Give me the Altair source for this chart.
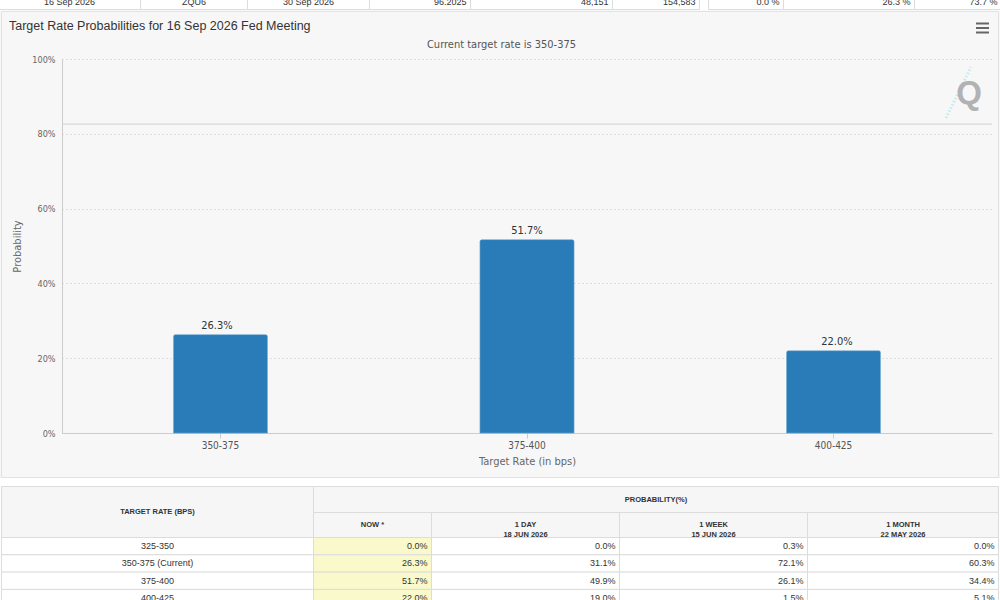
import altair as alt
import pandas as pd

# ---------------- data ----------------
RATES = ["350-375", "375-400", "400-425"]
PROBS = [26.3, 51.7, 22.0]
Y_TICKS = [0, 20, 40, 60, 80, 100]
REF_LINE = [82.6]

CHART_TITLE = "Target Rate Probabilities for 16 Sep 2026 Fed Meeting"
CHART_SUBTITLE = "Current target rate is 350-375"
X_TITLE = "Target Rate (in bps)"
Y_TITLE = "Probability"

TOP_ROW_LEFT = ["16 Sep 2026", "ZQU6", "30 Sep 2026", "96.2025", "48,151", "154,583"]
TOP_ROW_RIGHT = ["0.0 %", "26.3 %", "73.7 %"]

TABLE_HEAD_MAIN = ["TARGET RATE (BPS)", "PROBABILITY(%)"]
TABLE_HEAD_SUB = ["NOW *", "1 DAY\n18 JUN 2026", "1 WEEK\n15 JUN 2026", "1 MONTH\n22 MAY 2026"]
TABLE_RATES = ["325-350", "350-375 (Current)", "375-400", "400-425"]
TABLE_NOW = [0.0, 26.3, 51.7, 22.0]
TABLE_1DAY = [0.0, 31.1, 49.9, 19.0]
TABLE_1WEEK = [0.3, 72.1, 26.1, 1.5]
TABLE_1MONTH = [0.0, 60.3, 34.4, 5.1]

# ---------------- layout ----------------
W, H = 1000, 600
PL, PT, PW, PH = 62, 59, 930, 374
PR, PB = W - PL - PW, H - PT - PH

PAGE_X = alt.Scale(domain=[0, W], range=[-PL, W - PL], nice=False, zero=False)
PAGE_Y = alt.Scale(domain=[0, H], range=[-PT, H - PT], nice=False, zero=False)

AX_FONT = "DejaVu Sans Condensed, DejaVu Sans"
TB_FONT = "Liberation Sans, Arial"
TITLE_FONT = "Liberation Sans, Arial"

BAR_COLOR = "#2a7cb8"
BORDER = "#dcdcdc"
HEAD_BG = "#f6f6f6"
NOW_BG = "#f9f9cb"

STRIP_L_EDGES = [-1.5, 140.5, 247.5, 369.5, 470.5, 612.5, 699.5]
STRIP_R_EDGES = [708.5, 783.5, 914.5, 1001.5]
STRIP_Y = (-20, 9.5)
STRIP_TEXT_Y = 1.5

COL_EDGES = [1.5, 313.5, 431.5, 619.5, 807.5, 998.5]
HEAD_Y = [486.5, 512.5, 537.5]
ROW_H = 17.3


def page_rects(df, **mark):
    return alt.Chart(df).mark_rect(**mark).encode(
        x=alt.X("x1:Q", scale=PAGE_X, axis=None),
        x2="x2:Q",
        y=alt.Y("y1:Q", scale=PAGE_Y, axis=None),
        y2="y2:Q",
        fill=alt.Fill("fill:N", scale=None),
    )


def page_text(df, **mark):
    return alt.Chart(df).mark_text(**mark).encode(
        x=alt.X("x:Q", scale=PAGE_X, axis=None),
        y=alt.Y("y:Q", scale=PAGE_Y, axis=None),
        text="t:N",
    )


layers = []

# white areas outside the chart panel
white = pd.DataFrame([
    {"x1": 0, "x2": W, "y1": 0, "y2": 10.5, "fill": "#ffffff"},
    {"x1": 0, "x2": W, "y1": 478, "y2": H, "fill": "#ffffff"},
])
layers.append(page_rects(white))

# panel border
panel = pd.DataFrame([{"x1": 1.5, "x2": 998.5, "y1": 11.5, "y2": 477.5, "fill": "transparent"}])
layers.append(page_rects(panel, stroke="#e2e2e2", strokeWidth=1))

# ---- top strip (cut-off table row) ----
strip_cells = []
for edges in (STRIP_L_EDGES, STRIP_R_EDGES):
    for a, b in zip(edges[:-1], edges[1:]):
        strip_cells.append({"x1": a, "x2": b, "y1": STRIP_Y[0], "y2": STRIP_Y[1], "fill": "#ffffff"})
layers.append(page_rects(pd.DataFrame(strip_cells), stroke=BORDER, strokeWidth=1))

strip_center, strip_right = [], []
for i, t in enumerate(TOP_ROW_LEFT):
    a, b = STRIP_L_EDGES[i], STRIP_L_EDGES[i + 1]
    if i < 3:
        strip_center.append({"x": (a + b) / 2, "y": STRIP_TEXT_Y, "t": t})
    else:
        strip_right.append({"x": b - 4, "y": STRIP_TEXT_Y, "t": t})
for i, t in enumerate(TOP_ROW_RIGHT):
    strip_right.append({"x": STRIP_R_EDGES[i + 1] - 4, "y": STRIP_TEXT_Y, "t": t})
layers.append(page_text(pd.DataFrame(strip_center), align="center", baseline="middle",
                        font=TB_FONT, fontSize=9, color="#333"))
layers.append(page_text(pd.DataFrame(strip_right), align="right", baseline="middle",
                        font=TB_FONT, fontSize=9, color="#333"))

# ---- chart title, menu icon, watermark ----
layers.append(page_text(pd.DataFrame([{"x": 9, "y": 26, "t": CHART_TITLE}]),
                        align="left", baseline="middle", font=TITLE_FONT, fontSize=12.5, color="#333"))

menu = pd.DataFrame([{"x1": 976, "x2": 989, "y": v} for v in (23.5, 28, 32.5)])
layers.append(alt.Chart(menu).mark_rule(color="#666", strokeWidth=2).encode(
    x=alt.X("x1:Q", scale=PAGE_X, axis=None), x2="x2:Q",
    y=alt.Y("y:Q", scale=PAGE_Y, axis=None)))

hatch = pd.DataFrame([{"x1": 946, "x2": 971, "y1": 118, "y2": 67}])
layers.append(alt.Chart(hatch).mark_rule(color="#c6eaee", strokeWidth=3, strokeDash=[1.5, 2]).encode(
    x=alt.X("x1:Q", scale=PAGE_X, axis=None), x2="x2:Q",
    y=alt.Y("y1:Q", scale=PAGE_Y, axis=None), y2="y2:Q"))
layers.append(page_text(pd.DataFrame([{"x": 969, "y": 94, "t": "Q"}]),
                        align="center", baseline="middle", font="Liberation Sans",
                        fontSize=33, fontWeight="bold", color="#b2b2b2"))

# ---- main bar chart ----
bar_df = pd.DataFrame({"rate": RATES, "p": PROBS})
X_SC = alt.Scale(domain=RATES, paddingInner=0, paddingOuter=0.017)
Y_SC = alt.Scale(domain=[0, 100], nice=False, zero=True)

bars = alt.Chart(bar_df).mark_bar(
    size=94, color=BAR_COLOR, cornerRadiusTopLeft=2, cornerRadiusTopRight=2,
    stroke="#4f95c8", strokeWidth=0.6
).encode(
    x=alt.X("rate:N", scale=X_SC, sort=RATES, axis=alt.Axis(
        orient="bottom", title=X_TITLE, labelAngle=0, labelFont=AX_FONT, labelFontSize=10,
        labelColor="#555", labelPadding=2, tickSize=5, tickColor="#ccc", domainColor="#ccc",
        titleFont=AX_FONT, titleFontSize=11, titleFontWeight="normal", titleColor="#666",
        titlePadding=5, grid=False)),
    y=alt.Y("p:Q", scale=Y_SC, axis=alt.Axis(
        orient="left", values=Y_TICKS, labelExpr="datum.value + '%'", labelFont=AX_FONT,
        labelFontSize=9, labelColor="#666", labelPadding=7, ticks=False, domainColor="#ccc",
        grid=True, gridDash=[1, 3], gridColor="#c4c4c4", title=Y_TITLE, titleFont=AX_FONT,
        titleFontSize=11, titleFontWeight="normal", titleColor="#666", titlePadding=9)),
)
layers.append(bars)

ref = alt.Chart(pd.DataFrame({"v": REF_LINE})).mark_rule(color="#cfcfcf", strokeWidth=1).encode(
    y=alt.Y("v:Q", scale=Y_SC, axis=None))
layers.append(ref)

labels = alt.Chart(bar_df).transform_calculate(
    lab="format(datum.p, '.1f') + '%'"
).mark_text(baseline="alphabetic", dy=-6, font=AX_FONT, fontSize=11, color="#333").encode(
    x=alt.X("rate:N", scale=X_SC, sort=RATES, axis=alt.Axis(
        orient="top", labels=False, ticks=False, domain=False, grid=False,
        title=CHART_SUBTITLE, titleFont=AX_FONT, titleFontSize=11, titleFontWeight="normal",
        titleColor="#555", titlePadding=10, titleX=W / 2 + 1 - PL, titleAlign="center")),
    y=alt.Y("p:Q", scale=Y_SC, axis=None),
    text="lab:N",
)
layers.append(labels)

# ---- probability table ----
cells = [
    {"x1": COL_EDGES[0], "x2": COL_EDGES[1], "y1": HEAD_Y[0], "y2": HEAD_Y[2], "fill": HEAD_BG},
    {"x1": COL_EDGES[1], "x2": COL_EDGES[5], "y1": HEAD_Y[0], "y2": HEAD_Y[1], "fill": HEAD_BG},
]
for j in range(1, 5):
    cells.append({"x1": COL_EDGES[j], "x2": COL_EDGES[j + 1], "y1": HEAD_Y[1], "y2": HEAD_Y[2], "fill": HEAD_BG})
n_rows = len(TABLE_RATES)
for i in range(n_rows):
    for j in range(5):
        cells.append({"x1": COL_EDGES[j], "x2": COL_EDGES[j + 1],
                      "y1": HEAD_Y[2] + i * ROW_H, "y2": HEAD_Y[2] + (i + 1) * ROW_H,
                      "fill": NOW_BG if j == 1 else "#ffffff"})
layers.append(page_rects(pd.DataFrame(cells), stroke=BORDER, strokeWidth=1))

head_text = [
    {"x": (COL_EDGES[0] + COL_EDGES[1]) / 2, "y": (HEAD_Y[0] + HEAD_Y[2]) / 2, "t": TABLE_HEAD_MAIN[0]},
    {"x": (COL_EDGES[1] + COL_EDGES[5]) / 2, "y": (HEAD_Y[0] + HEAD_Y[1]) / 2, "t": TABLE_HEAD_MAIN[1]},
]
for j, t in enumerate(TABLE_HEAD_SUB):
    head_text.append({"x": (COL_EDGES[j + 1] + COL_EDGES[j + 2]) / 2,
                      "y": (HEAD_Y[1] + HEAD_Y[2]) / 2, "t": t})
layers.append(page_text(pd.DataFrame(head_text), align="center", baseline="middle",
                        lineBreak="\n", lineHeight=10, font=TB_FONT, fontSize=7.5,
                        fontWeight="bold", color="#333"))

rate_text, val_text = [], []
cols = [TABLE_NOW, TABLE_1DAY, TABLE_1WEEK, TABLE_1MONTH]
for i, r in enumerate(TABLE_RATES):
    yc = HEAD_Y[2] + (i + 0.5) * ROW_H
    rate_text.append({"x": (COL_EDGES[0] + COL_EDGES[1]) / 2, "y": yc, "t": r})
    for j, col in enumerate(cols):
        val_text.append({"x": COL_EDGES[j + 2] - 4, "y": yc, "t": f"{col[i]:.1f}%"})
layers.append(page_text(pd.DataFrame(rate_text), align="center", baseline="middle",
                        font=TB_FONT, fontSize=9, color="#333"))
layers.append(page_text(pd.DataFrame(val_text), align="right", baseline="middle",
                        font=TB_FONT, fontSize=9, color="#333"))

chart = alt.layer(*layers).resolve_scale(
    x="independent", y="independent"
).properties(
    width=PW, height=PH,
    padding={"left": PL, "top": PT, "right": PR, "bottom": PB},
    autosize=alt.AutoSizeParams(type="none"),
    background="#f7f7f7",
).configure_view(stroke=None)

chart.save("out.html", embed_options={"renderer": "svg", "actions": False})
